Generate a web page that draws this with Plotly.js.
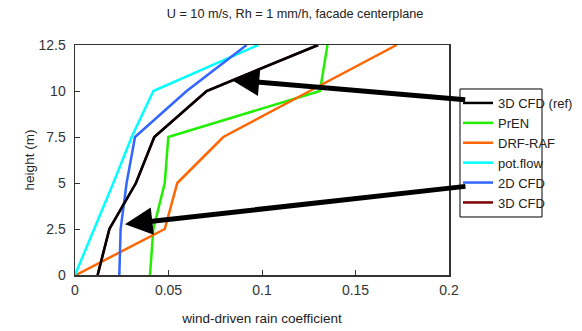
<!DOCTYPE html>
<html>
<head>
<meta charset="utf-8">
<script src="https://cdn.plot.ly/plotly-3.0.1.min.js"></script>
<style>html,body{margin:0;padding:0;background:#fff;}#chart{width:582px;height:331px;}</style>
</head>
<body>
<div id="chart"></div>
<script>
// Heights (m)
var heights = [0, 2.5, 5, 7.5, 10, 12.5];
// Wind-driven rain coefficient per series
var cfd3dRef = [0.0121, 0.0184, 0.0326, 0.0424, 0.0704, 0.130];
var prEN     = [0.0401, 0.0419, 0.0480, 0.0499, 0.131, 0.135];
var drfRaf   = [0.0005, 0.048, 0.0547, 0.0793, 0.1255, 0.172];
var potFlow  = [0.0, 0.0103, 0.0205, 0.0303, 0.0419, 0.098];
var cfd2d    = [0.0237, 0.0244, 0.0276, 0.0321, 0.0597, 0.0918];
var cfd3d    = [0.0121, 0.0184, 0.0326, 0.0424, 0.0704, 0.130];

var seriesNames = ['3D CFD (ref)', 'PrEN', 'DRF-RAF', 'pot.flow', '2D CFD', '3D CFD'];
var xTicks = [0, 0.05, 0.1, 0.15, 0.2];
var xTickText = ['0', '0.05', '0.1', '0.15', '0.2'];
var yTicks = [0, 2.5, 5, 7.5, 10, 12.5];
var yTickText = ['0', '2.5', '5', '7.5', '10', '12.5'];

function tr(x, name, color, rank) {
  return {x: x, y: heights, name: name, type: 'scatter', mode: 'lines',
    line: {color: color, width: 2.5}, legendrank: rank};
}
var data = [
  tr(cfd3d, seriesNames[5], '#800000', 6),
  tr(prEN, seriesNames[1], '#22ee00', 2),
  tr(drfRaf, seriesNames[2], '#ff6600', 3),
  tr(potFlow, seriesNames[3], '#00ffff', 4),
  tr(cfd2d, seriesNames[4], '#3366ff', 5),
  tr(cfd3dRef, seriesNames[0], '#000000', 1)
];

var tickFont = {family: 'Liberation Sans, Arial, sans-serif', size: 14, color: '#333'};

var layout = {
  width: 582, height: 331,
  margin: {l: 75, r: 133, t: 45, b: 56},
  paper_bgcolor: '#fff', plot_bgcolor: '#fff',
  font: {family: 'Liberation Sans, Arial, sans-serif', size: 13.5, color: '#222'},
  title: {text: 'U = 10 m/s, Rh = 1 mm/h, facade centerplane', font: {size: 12.7, color: '#222'},
    x: 0.507, xanchor: 'center', y: 0.96, yanchor: 'middle'},
  showlegend: true,
  legend: {x: 458 / 582, y: 1 - 88 / 331, xref: 'container', yref: 'container', xanchor: 'left', yanchor: 'top',
    borderwidth: 0, bgcolor: 'rgba(0,0,0,0)', font: {size: 13, color: '#222'}, tracegroupgap: 0, itemwidth: 30},
  shapes: [
    {type: 'rect', xref: 'paper', yref: 'paper', x0: 1.0294, x1: 1.2487, y0: 0.2522, y1: 0.8087,
      line: {color: '#000', width: 1}, fillcolor: 'rgba(0,0,0,0)', layer: 'above'}
  ],
  xaxis: {range: [0, 0.2], tickvals: xTicks, ticktext: xTickText, ticks: 'inside', ticklen: 5,
    tickcolor: '#333', showgrid: false, zeroline: false, showline: true, linecolor: '#333', linewidth: 1.5,
    mirror: true, automargin: false, ticklabelstandoff: 2, tickfont: tickFont,
    title: {text: 'wind-driven rain coefficient', font: {size: 13.5, color: '#222'}, standoff: 16},
    fixedrange: true},
  yaxis: {range: [0, 12.5], tickvals: yTicks, ticktext: yTickText, ticks: 'inside', ticklen: 5,
    tickcolor: '#333', showgrid: false, zeroline: false, showline: true, linecolor: '#333', linewidth: 1.5,
    mirror: true, automargin: false, ticklabelstandoff: 5, tickfont: tickFont,
    title: {text: 'height (m)', font: {size: 13.5, color: '#222'}, standoff: 0},
    fixedrange: true},
  annotations: [
    {x: 0.0838, y: 10.6, xref: 'x', yref: 'y', ax: 235, ay: 20, axref: 'pixel', ayref: 'pixel',
      showarrow: true, arrowhead: 2, arrowwidth: 5, arrowsize: 1.1, arrowcolor: '#000', text: ''},
    {x: 0.0267, y: 2.76, xref: 'x', yref: 'y', ax: 342, ay: -38, axref: 'pixel', ayref: 'pixel',
      showarrow: true, arrowhead: 2, arrowwidth: 5, arrowsize: 1.1, arrowcolor: '#000', text: ''}
  ]
};
Plotly.newPlot('chart', data, layout, {displayModeBar: false, staticPlot: true});
</script>
</body>
</html>
